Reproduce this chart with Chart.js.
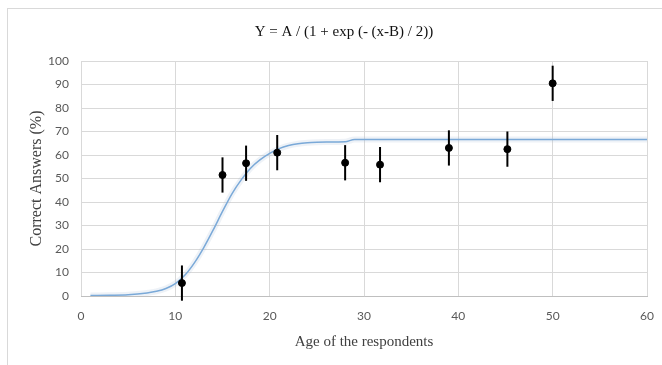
<!DOCTYPE html>
<html><head><meta charset="utf-8">
<script src="https://cdn.jsdelivr.net/npm/chart.js@4.4.1/dist/chart.umd.min.js"></script>
<style>
html,body{margin:0;padding:0;background:#fff;}
#wrap{position:relative;width:662px;height:365px;overflow:hidden;}
#frame{position:absolute;left:7px;top:8px;width:700px;height:400px;border-left:1px solid #d9d9d9;border-top:1px solid #d9d9d9;}
canvas{position:absolute;left:0;top:0;}
</style></head><body>
<div id="wrap"><div id="frame"></div><canvas id="c" width="662" height="365"></canvas></div>
<script>
const chartTitle = "Y = A / (1 + exp (- (x-B) / 2))";
const xAxisTitle = "Age of the respondents";
const yAxisTitle = "Correct Answers (%)";
const ages = [10.7, 15.0, 17.5, 20.8, 28.0, 31.7, 39.0, 45.2, 50.0];
const correct = [5.5, 51.5, 56.5, 61.0, 56.7, 55.9, 63.0, 62.5, 90.5];
const errors = [7.5, 7.5, 7.5, 7.5, 7.5, 7.5, 7.5, 7.5, 7.5];
const fitAges = [1, 3, 5, 7, 8, 9, 10, 11, 12, 13, 14, 15, 16, 17, 18, 19, 20, 21, 22, 23, 24, 25, 26, 28, 29, 60];
const fitValues = [0.2, 0.3, 0.5, 1.3, 2.0, 3.2, 5.3, 8.8, 14, 20.5, 28, 36, 43.5, 49.5, 54.5, 58, 60.7, 62.7, 64, 64.8, 65.2, 65.4, 65.5, 65.6, 66.6, 66.6];
const xTicks = [0, 10, 20, 30, 40, 50, 60];
const yTicks = [0, 10, 20, 30, 40, 50, 60, 70, 80, 90, 100];

const pointData = ages.map((a, i) => ({x: a, y: correct[i]}));
const fitData = fitAges.map((a, i) => ({x: a, y: fitValues[i]}));

const errorBars = {
  id: 'errorBars',
  afterDatasetsDraw(chart) {
    const {ctx, scales: {x, y}} = chart;
    ctx.save();
    ctx.strokeStyle = '#000';
    ctx.lineWidth = 2;
    ages.forEach((a, i) => {
      const px = x.getPixelForValue(a);
      ctx.beginPath();
      ctx.moveTo(px, y.getPixelForValue(correct[i] + errors[i]));
      ctx.lineTo(px, y.getPixelForValue(correct[i] - errors[i]));
      ctx.stroke();
    });
    ctx.restore();
  }
};
const titlePlugin = {
  id: 'titlePlugin',
  afterDraw(chart) {
    const ctx = chart.ctx;
    ctx.save();
    ctx.font = '15px "Liberation Serif"';
    ctx.fillStyle = '#111';
    ctx.textAlign = 'center';
    ctx.textBaseline = 'middle';
    ctx.fillText(chartTitle, 344, 32);
    ctx.restore();
  }
};

new Chart(document.getElementById('c'), {
  type: 'scatter',
  data: {
    datasets: [
      {data: pointData, backgroundColor: '#000', borderColor: '#000', pointRadius: 3.5, showLine: false, order: 0, clip: false},
      {data: fitData, showLine: true, borderColor: '#7aa9d8', borderWidth: 1.5, pointRadius: 0, cubicInterpolationMode: 'monotone', order: 1},
      {data: fitData, showLine: true, borderColor: 'rgba(160,185,210,0.18)', borderWidth: 6, pointRadius: 0, cubicInterpolationMode: 'monotone', order: 2}
    ]
  },
  options: {
    responsive: false,
    animation: false,
    layout: {padding: {top: 61, right: 15, left: 0, bottom: 0}},
    plugins: {legend: {display: false}, tooltip: {enabled: false}},
    scales: {
      x: {
        type: 'linear', min: 0, max: 60,
        afterBuildTicks: s => { s.ticks = xTicks.map(v => ({value: v})); },
        afterFit: s => { s.height = 69; s.paddingRight = 0; s.paddingLeft = 0; },
        ticks: {padding: 13, color: '#595959', font: {family: 'Lato', size: 12}},
        grid: {color: '#d9d9d9', drawTicks: false},
        border: {color: '#bfbfbf'},
        title: {display: true, text: xAxisTitle, color: '#404040', font: {family: 'Liberation Serif', size: 15}, padding: {bottom: 14, top: 0}}
      },
      y: {
        type: 'linear', min: 0, max: 100,
        afterBuildTicks: s => { s.ticks = yTicks.map(v => ({value: v})); },
        afterFit: s => { s.width = 81; s.paddingTop = 0; s.paddingBottom = 0; },
        ticks: {padding: 12, color: '#595959', font: {family: 'Lato', size: 12}},
        grid: {color: '#d9d9d9', drawTicks: false},
        border: {display: false},
        title: {display: true, text: yAxisTitle, color: '#404040', font: {family: 'Liberation Serif', size: 16}, padding: {top: 27, bottom: 0}}
      }
    }
  },
  plugins: [errorBars, titlePlugin]
});
</script>
</body></html>
